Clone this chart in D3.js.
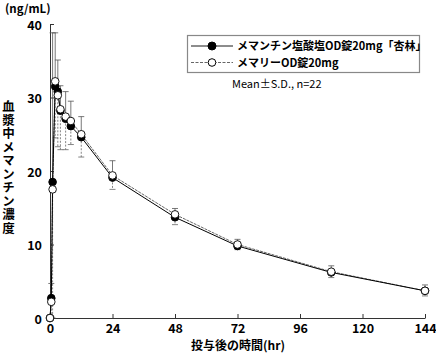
<!DOCTYPE html>
<html>
<head>
<meta charset="utf-8">
<script src="https://cdn.jsdelivr.net/npm/d3@7"></script>
<style>
  body { margin: 0; background: #fff; }
  svg { display: block; }
  text { font-family: "Noto Sans CJK JP", "DejaVu Sans", sans-serif; fill: #000; }
</style>
</head>
<body>
<svg></svg>
<script>
// time after dosing (hr)
const times = [0, 0.5, 1, 2, 3, 4, 6, 8, 12, 24, 48, 72, 108, 144];
// kyorin generic (filled), SD drawn upward
const genericMean = [0, 2.7, 18.5, 31.5, 30.8, 28.2, 27.1, 26.1, 24.6, 19.1, 13.7, 9.8, 6.2, 3.7];
const genericSD = [0, 2.0, 20.3, 7.3, 4.3, 3.4, 3.7, 3.4, 2.8, 2.3, 1.2, 0.9, 0.9, 0.8];
// reference product (open), SD drawn downward
const refMean = [0, 2.2, 17.5, 32.2, 30.3, 28.4, 27.4, 26.8, 25.0, 19.4, 14.1, 10.0, 6.3, 3.7];
const refSD = [0, 2.0, 17.5, 7.7, 7.0, 5.5, 4.5, 3.2, 3.1, 1.9, 1.4, 0.7, 0.8, 0.7];

const xTicks = [0, 24, 48, 72, 96, 120, 144];
const yTicks = [0, 10, 20, 30, 40];
const seriesNames = ["メマンチン塩酸塩OD錠20mg「杏林」", "メマリーOD錠20mg"];

var svgWidth = 436, svgHeight = 354;
var svg = d3.select("svg").attr("width", svgWidth).attr("height", svgHeight);

var x = d3.scaleLinear().domain([0, 144]).range([50, 425]);
var y = d3.scaleLinear().domain([0, 40]).range([318, 24]);

var numFont = "'Liberation Sans', Arial, sans-serif";

// axes, ticks pointing inward
svg.append("g")
    .attr("transform", "translate(0,318)")
    .call(d3.axisBottom(x).tickValues(xTicks).tickSizeInner(-4).tickSizeOuter(0).tickPadding(6.5))
    .call(g => g.selectAll("text").attr("font-size", 12.5).attr("font-weight", "bold").attr("font-family", numFont));

svg.append("g")
    .attr("transform", "translate(50,0)")
    .call(d3.axisLeft(y).tickValues(yTicks).tickSizeInner(-4).tickSizeOuter(0).tickPadding(8))
    .call(g => g.selectAll("text").attr("font-size", 12.5).attr("font-weight", "bold")
        .attr("font-family", numFont).attr("dy", "0.42em"));

svg.selectAll(".domain, .tick line").attr("stroke", "#333");

var genData = times.map((t, i) => ({ t: t, m: genericMean[i], sd: genericSD[i] }));
var refData = times.map((t, i) => ({ t: t, m: refMean[i], sd: refSD[i] }));

var line = d3.line().x(d => x(d.t)).y(d => y(d.m));

// error bars (one-sided)
function errBars(data, dir, stroke, dash) {
    var g = svg.append("g").attr("stroke", stroke).attr("fill", "none").attr("stroke-width", 0.8);
    var d2 = data.filter(d => d.sd > 0);
    var end = d => y(Math.max(0, d.m + dir * d.sd));
    g.selectAll("line.v").data(d2).enter().append("line")
        .attr("stroke-dasharray", dash)
        .attr("x1", d => x(d.t)).attr("x2", d => x(d.t))
        .attr("y1", d => y(d.m)).attr("y2", end);
    g.selectAll("line.c").data(d2).enter().append("line")
        .attr("x1", d => x(d.t) - 3).attr("x2", d => x(d.t) + 3)
        .attr("y1", end).attr("y2", end);
}
errBars(genData, 1, "#555", null);
errBars(refData, -1, "#666", "2,1.5");

// lines
svg.append("path").datum(refData)
    .attr("fill", "none").attr("stroke", "#555").attr("stroke-width", 0.9)
    .attr("stroke-dasharray", "3,1")
    .attr("d", line);
svg.append("path").datum(genData)
    .attr("fill", "none").attr("stroke", "#000").attr("stroke-width", 1)
    .attr("d", line);

// markers
svg.append("g").selectAll("circle").data(genData).enter().append("circle")
    .attr("cx", d => x(d.t)).attr("cy", d => y(d.m)).attr("r", 3.8)
    .attr("fill", "#000").attr("stroke", "#000");
svg.append("g").selectAll("circle").data(refData).enter().append("circle")
    .attr("cx", d => x(d.t)).attr("cy", d => y(d.m)).attr("r", 3.8)
    .attr("fill", "#fff").attr("stroke", "#000").attr("stroke-width", 0.9);

// legend
var lg = svg.append("g");
lg.append("rect").attr("x", 187.5).attr("y", 35.5).attr("width", 232).attr("height", 37)
    .attr("fill", "#fff").attr("stroke", "#888").attr("stroke-width", 1.2);
seriesNames.forEach(function(name, i) {
    var ly = 46 + i * 16.5;
    lg.append("line").attr("x1", 191).attr("x2", 233).attr("y1", ly).attr("y2", ly)
        .attr("stroke", i === 0 ? "#000" : "#555").attr("stroke-width", 0.9)
        .attr("stroke-dasharray", i === 0 ? null : "3,1.5");
    lg.append("circle").attr("cx", 212).attr("cy", ly).attr("r", i === 0 ? 4 : 3.8)
        .attr("fill", i === 0 ? "#000" : "#fff").attr("stroke", "#000");
    lg.append("text").attr("x", 237).attr("y", ly + 4).attr("font-size", 11)
        .attr("font-weight", "bold").text(name);
});
svg.append("text").attr("x", 232).attr("y", 88).attr("font-size", 11)
    .text("Mean±S.D., n=22");

// unit and axis titles
svg.append("text").attr("x", 5).attr("y", 12.5).attr("font-size", 11.5).attr("font-weight", "bold")
    .attr("font-family", numFont).text("(ng/mL)");
svg.append("text").attr("x", 238).attr("y", 350.3).attr("text-anchor", "middle")
    .attr("font-size", 12).attr("font-weight", "bold").text("投与後の時間(hr)");

svg.append("text").attr("x", 8.5).attr("y", 100)
    .attr("font-size", 12.5).attr("font-weight", "bold")
    .style("writing-mode", "vertical-rl").style("text-orientation", "upright")
    .attr("letter-spacing", 1)
    .text("血漿中メマンチン濃度");
</script>
</body>
</html>
